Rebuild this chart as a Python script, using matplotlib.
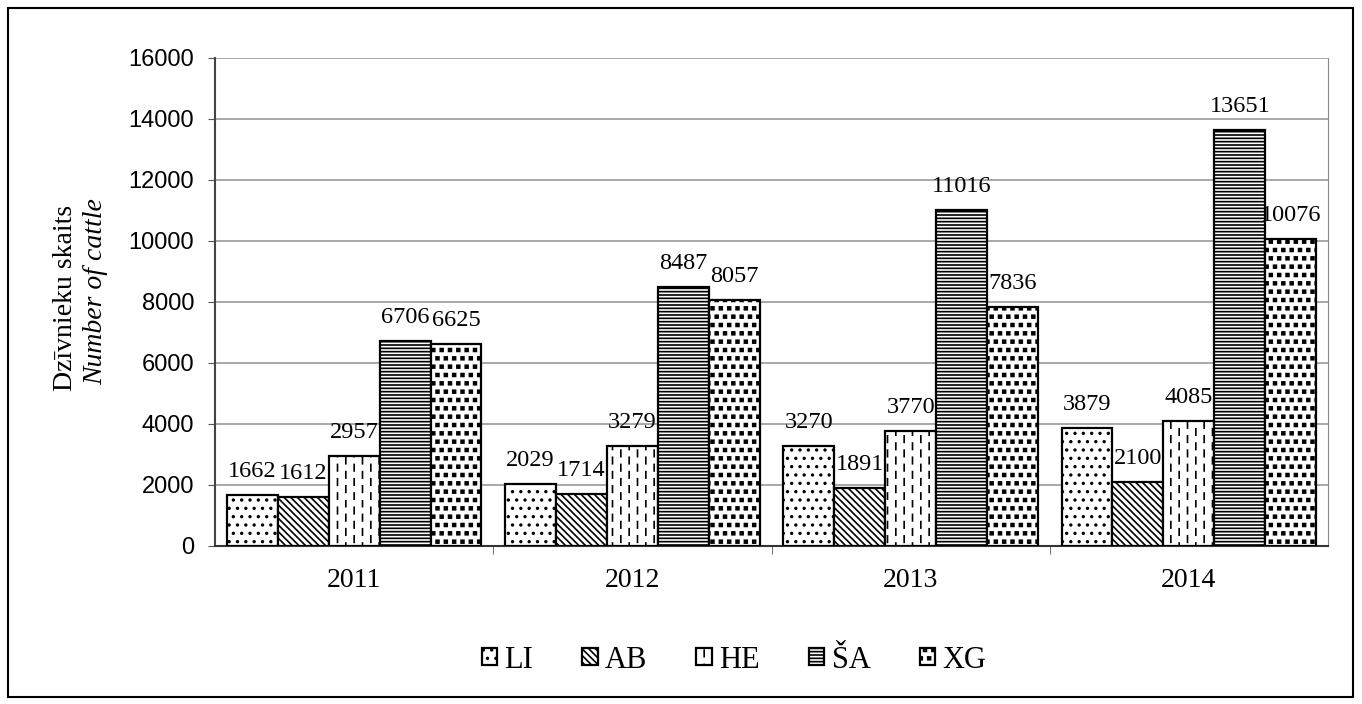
import numpy as np
import matplotlib.pyplot as plt
import matplotlib.hatch as mhatch
from matplotlib.path import Path
from matplotlib.patches import Rectangle

years = ['2011', '2012', '2013', '2014']
breeds = ['LI', 'AB', 'HE', 'ŠA', 'XG']
li = [1662, 2029, 3270, 3879]
ab = [1612, 1714, 1891, 2100]
he = [2957, 3279, 3770, 4085]
sa = [6706, 8487, 11016, 13651]
xg = [6625, 8057, 7836, 10076]
series = [li, ab, he, sa, xg]
hatches = ['..', '\\\\\\\\\\', '||', '-----', 'OO']


# dashed vertical lines for '|' (HE pattern in the original)
class DashedVertical(mhatch.HatchPatternBase):
    def __init__(self, hatch, density):
        self.num_cols = hatch.count('|') * density
        self.num_dashes = 7
        self.num_vertices = self.num_cols * self.num_dashes * 2

    def set_vertices_and_codes(self, vertices, codes):
        xs = (np.arange(self.num_cols) + 0.5) / self.num_cols
        k = 0
        for i, xc in enumerate(xs):
            for j in range(self.num_dashes):
                y0 = (j + 0.5 * (i % 2)) / self.num_dashes + 0.005
                vertices[k] = (xc, y0)
                vertices[k + 1] = (xc, y0 + 0.065)
                codes[k] = Path.MOVETO
                codes[k + 1] = Path.LINETO
                k += 2


# small filled squares for 'O' (XG pattern)
class FilledSquares(mhatch.Shapes):
    size = 0.17
    filled = True
    shape_vertices = np.array([[-1, -1], [1, -1], [1, 1], [-1, 1], [-1, -1]], float)
    shape_codes = np.array([Path.MOVETO, Path.LINETO, Path.LINETO, Path.LINETO,
                            Path.CLOSEPOLY], dtype=Path.code_type)

    def __init__(self, hatch, density):
        self.num_rows = hatch.count('O') * density
        super().__init__(hatch, density)


mhatch._hatch_types = [t for t in mhatch._hatch_types
                       if t not in (mhatch.VerticalHatch, mhatch.LargeCircles)]
mhatch._hatch_types += [DashedVertical, FilledSquares]

plt.rcParams['hatch.linewidth'] = 1.2
serif = 'Liberation Serif'

fig = plt.figure(figsize=(13.62, 7.04), dpi=100)
ax = fig.add_axes([215 / 1362, 1 - 546 / 704, (1328 - 215) / 1362, (546 - 58) / 704])

x = np.arange(len(years))
w = 0.183
for i, (name, vals) in enumerate(zip(breeds, series)):
    pos = x + (i - 2) * w
    bars = ax.bar(pos, vals, width=w, facecolor='white', edgecolor='black',
                  hatch=hatches[i], linewidth=1.6, label=name, zorder=3)
    for b, v in zip(bars, vals):
        ax.annotate(str(v), (b.get_x() + b.get_width() / 2, v), xytext=(0, 13),
                    textcoords='offset points', ha='center', va='baseline',
                    fontsize=17.5, family=serif)

ax.set_xlim(-0.5, 3.5)
ax.set_ylim(0, 16000)
ax.set_yticks(np.arange(0, 16001, 2000))
ax.tick_params(axis='y', labelsize=17, length=5, pad=10, direction='out', color='#555555')
for t in ax.get_yticklabels():
    t.set_family('Liberation Sans')
ax.set_xticks(x)
ax.set_xticklabels(years, fontsize=20, family=serif)
ax.set_xticks([0.5, 1.5, 2.5], minor=True)
ax.tick_params(axis='x', which='major', length=0, pad=16)
ax.tick_params(axis='x', which='minor', length=6, color='#555555')
ax.yaxis.grid(True, color='#999999', linewidth=1.2, zorder=0)
ax.set_axisbelow(True)
ax.spines['left'].set_color('#444444')
ax.spines['left'].set_linewidth(1.5)
ax.spines['bottom'].set_color('#333333')
ax.spines['bottom'].set_linewidth(1.5)
ax.spines['right'].set_color('#888888')
ax.spines['top'].set_visible(False)

fig.text(65 / 1362, 1 - 298 / 704, 'Dzīvnieku skaits', rotation=90, ha='center',
         va='center', fontsize=20, family=serif)
fig.text(96 / 1362, 1 - 292 / 704, 'Number of cattle', rotation=90, ha='center',
         va='center', fontsize=20, family=serif, style='italic')

leg = fig.legend(loc='center', bbox_to_anchor=(734 / 1362, 1 - 660 / 704), ncol=5,
                 frameon=False, prop={'family': serif, 'size': 22},
                 handlelength=0.5, handleheight=0.5, handletextpad=0.25,
                 columnspacing=1.6)

fig.patches.append(Rectangle((8 / 1362, 7 / 704), 1345 / 1362, 689 / 704,
                             transform=fig.transFigure, fill=False,
                             edgecolor='black', linewidth=1.5))

fig.savefig('out.png', dpi=100)
